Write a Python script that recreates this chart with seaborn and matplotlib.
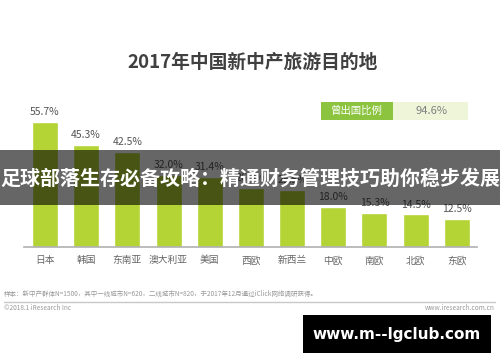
import matplotlib
matplotlib.use('Agg')
import matplotlib.pyplot as plt
from matplotlib.patches import Rectangle
import seaborn as sns

# data
regions = ['日本', '韩国', '东南亚', '澳大利亚', '美国', '西欧', '新西兰', '中欧', '南欧', '北欧', '东欧']
shares = [55.7, 45.3, 42.5, 32.0, 31.4, 26.3, 25.5, 18.0, 15.3, 14.5, 12.5]
abroad_label = '曾出国比例'
abroad_share = 94.6

title = '2017年中国新中产旅游目的地'
note = '样本：新中产群体N=1500，其中一线城市N=620，二线城市N=820，于2017年12月通过iClick网络调研获得。'
banner = '足球部落生存必备攻略：精通财务管理技巧助你稳步发展'

sns.set_theme(style='white')
plt.rcParams['font.family'] = ['Noto Sans CJK SC', 'DejaVu Sans']

W, H = 500, 362
fig = plt.figure(figsize=(W / 100, H / 100), dpi=100)
fig.patch.set_facecolor('white')


def fx(px):
    return px / W


def fy(py):
    return 1 - py / H


ax = fig.add_axes([fx(24.4), fy(247), fx(453), 134.7 / H])
sns.barplot(x=regions, y=shares, color='#b4d334', width=0.63, saturation=1, ax=ax)
ax.set_xlim(-0.5, len(regions) - 0.5)
ax.set_ylim(0, 60)
ax.set_yticks([])
ax.set_xlabel('')
ax.set_ylabel('')
for s in ['top', 'left', 'right']:
    ax.spines[s].set_visible(False)
ax.spines['bottom'].set_color('#b0b0b0')
ax.spines['bottom'].set_linewidth(1.2)
ax.tick_params(axis='x', length=0, pad=6, labelsize=7, labelcolor='#666666')
ax.patch.set_alpha(0)
ax.bar_label(ax.containers[0], labels=[f'{v:.1f}%' for v in shares],
             padding=3.5, fontsize=7.5, color='#555555')

# title
fig.text(fx(253), fy(62), title, ha='center', va='center', fontsize=13.5,
         fontweight='bold', color='#404040')

# legend-like box
fig.patches.append(Rectangle((fx(321), fy(120)), fx(72), 18 / H, transform=fig.transFigure,
                             facecolor='#8cc43f', edgecolor='none', zorder=2))
fig.patches.append(Rectangle((fx(393), fy(120)), fx(75), 18 / H, transform=fig.transFigure,
                             facecolor='#eef5d9', edgecolor='none', zorder=2))
fig.text(fx(357), fy(111), abroad_label, ha='center', va='center', fontsize=7.5,
         color='white', zorder=3)
fig.text(fx(431), fy(111), f'{abroad_share:.1f}%', ha='center', va='center', fontsize=8,
         color='#808080', zorder=3)

# footer
fig.text(fx(4), fy(294), note, ha='left', va='center', fontsize=4.7, color='#999999')
fig.lines.append(plt.Line2D([fx(4), fx(495)], [fy(301.5), fy(301.5)], transform=fig.transFigure,
                            color='#c8c8c8', linewidth=1))
fig.text(fx(4), fy(308.5), '©2018.1 iResearch Inc', ha='left', va='center', fontsize=4.7,
         color='#999999')
fig.text(fx(495), fy(308.5), 'www.iresearch.com.cn', ha='right', va='center', fontsize=4.7,
         color='#999999')

# overlay banner
fig.patches.append(Rectangle((0, fy(205)), 1, 55 / H, transform=fig.transFigure,
                             facecolor='black', alpha=0.6, edgecolor='none', zorder=5))
fig.text(0.5, fy(178), banner, ha='center', va='center', fontsize=14.4,
         fontweight='bold', color='white', zorder=6)

# watermark box
fig.patches.append(Rectangle((fx(303), fy(353)), fx(188), 38 / H, transform=fig.transFigure,
                             facecolor='black', edgecolor='none', zorder=5))
fig.text(fx(397), fy(334), 'www.m--lgclub.com', ha='center', va='center', fontsize=11,
         fontweight='bold', color='white', family='DejaVu Sans', zorder=6)

fig.savefig('out.png', dpi=100)
